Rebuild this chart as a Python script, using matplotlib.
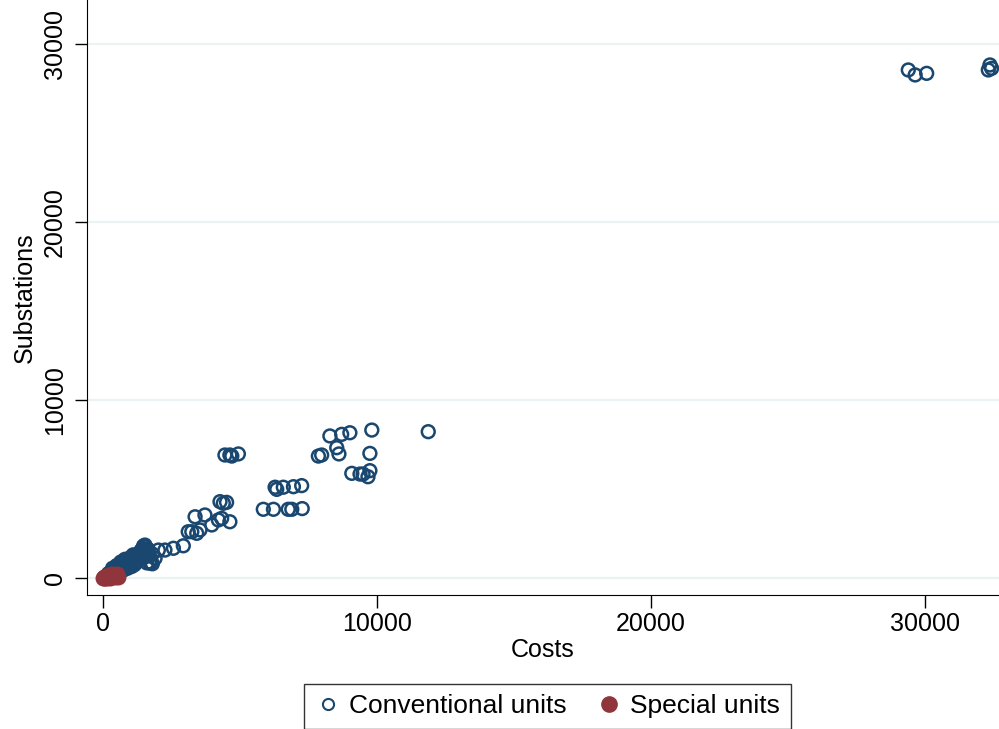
import matplotlib.pyplot as plt
from matplotlib.lines import Line2D

plt.rcParams["font.family"] = ["Liberation Sans", "DejaVu Sans"]

# conventional units (costs, substations)
conv_x = [60, 120, 180, 240, 300, 350, 420, 480, 550, 600, 650, 700, 760, 820, 880,
          950, 1000, 1080, 1150, 1200, 1250, 1300, 1350, 1400, 1450, 1480, 1550, 1600,
          1650, 900, 1000, 1100, 750, 650, 500, 400, 300, 200, 1200, 1300, 1400, 1550,
          1700, 1800, 1600, 1450, 1250, 1100, 950, 850, 1000, 1700, 1800, 1650, 1500,
          350, 500, 650, 800, 450, 600, 750, 900, 1050, 1150,
          1530, 1410, 1720, 1900, 2020, 2260, 2570, 2930,
          3110, 3240, 3420, 3540, 3360, 3720, 4210, 3970, 4330, 4630,
          4270, 4390, 4510, 4450, 4700, 4940, 4630,
          5850, 6220, 6760, 6890, 7270, 6280, 6340, 6580, 6950, 7250,
          7860, 7980, 8280, 8530, 8610, 8710, 9010, 9810, 9740,
          9080, 9380, 9490, 9740, 9670, 11870,
          29390, 29640, 30060, 32370, 32430, 32310]
conv_y = [40, 100, 150, 200, 260, 300, 380, 420, 500, 560, 600, 680, 720, 800, 850,
          900, 980, 1050, 1100, 1200, 1300, 1350, 1450, 1550, 1650, 1800, 1750, 1500,
          1400, 1050, 1150, 1300, 900, 750, 600, 450, 350, 250, 900, 1000, 1100, 1200,
          900, 800, 850, 1150, 1050, 850, 750, 650, 700, 1250, 1350, 1600, 1400,
          550, 700, 900, 1050, 200, 350, 450, 550, 650, 750,
          1850, 1570, 830, 1110, 1570, 1570, 1670, 1810,
          2600, 2600, 2510, 2700, 3440, 3540, 3260, 2980, 3350, 3160,
          4290, 4200, 4250, 6910, 6850, 6970, 6910,
          3860, 3860, 3860, 3860, 3900, 5100, 4980, 5100, 5130, 5190,
          6850, 6910, 7980, 7320, 6970, 8070, 8160, 8310, 7000,
          5880, 5840, 5840, 6030, 5690, 8220,
          28540, 28260, 28350, 28820, 28630, 28540]

# special units
spec_x = [0, 30, 60, 100, 150, 200, 250, 300, 350, 400, 450, 500, 80, 120, 180,
          220, 280, 320, 380, 420, 480, 260, 40, 140, 530]
spec_y = [0, 10, 20, 30, 40, 60, 80, 100, 120, 150, 180, 200, 60, 100, 120,
          150, 180, 200, 100, 60, 120, 20, 50, 10, 80]

navy = "#1a476f"
maroon = "#90353b"

fig = plt.figure(figsize=(9.99, 7.29), dpi=100)
ax = fig.add_axes([0.0871, 0.1838, 0.9129, 0.8162])

ax.set_axisbelow(True)
ax.yaxis.grid(True, color="#eaf2f3", linewidth=1.6)
ax.scatter(conv_x, conv_y, s=85, facecolors="none", edgecolors=navy, linewidths=1.8, zorder=3)
ax.scatter(spec_x, spec_y, s=110, color=maroon, edgecolors=maroon, zorder=4)

ax.set_xlim(-584, 32700)
ax.set_ylim(-955, 32470)
ax.set_xticks([0, 10000, 20000, 30000])
ax.set_yticks([0, 10000, 20000, 30000])
ax.tick_params(axis="both", labelsize=18, length=9, width=1, color="black")
ax.tick_params(axis="x", pad=3)
ax.tick_params(axis="y", pad=5.5)
for lbl in ax.get_yticklabels():
    lbl.set_rotation(90)
    lbl.set_va("center")
ax.spines[["top", "right"]].set_visible(False)
ax.set_xlabel("Costs", fontsize=18, labelpad=2)
ax.set_ylabel("Substations", fontsize=18, labelpad=4.5)

handles = [
    Line2D([], [], linestyle="none", marker="o", markersize=8, markerfacecolor="none",
           markeredgecolor=navy, markeredgewidth=1.5),
    Line2D([], [], linestyle="none", marker="o", markersize=11, color=maroon),
]
fig.legend(handles, ["Conventional units", "Special units"], loc="upper center",
           bbox_to_anchor=(0.548, 0.0805), ncol=2, fontsize=19, frameon=True,
           fancybox=False, edgecolor="black", handletextpad=0.3, columnspacing=1.1,
           borderpad=0.4, handlelength=1.0)

fig.savefig("out.png", dpi=100)
